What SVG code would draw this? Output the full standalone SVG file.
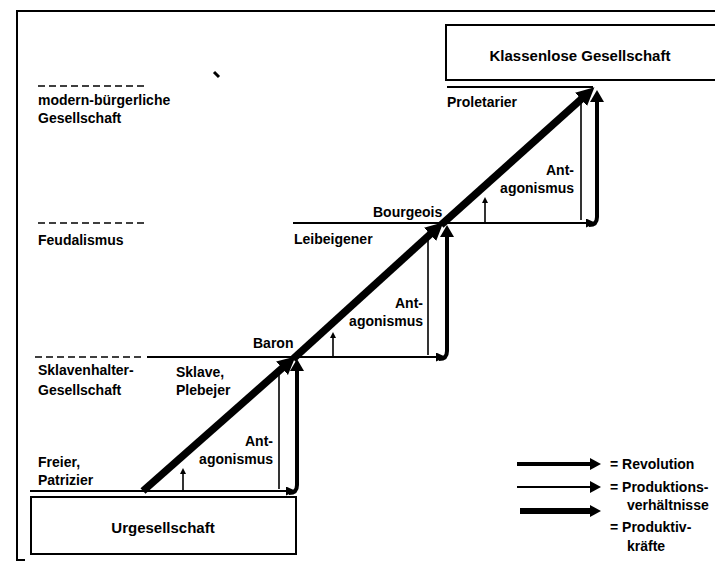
<svg xmlns="http://www.w3.org/2000/svg" width="715" height="564" viewBox="0 0 715 564">
<style>
text{font-family:"Liberation Sans",Arial,sans-serif;font-weight:bold;font-size:14px;fill:#000}
.big{font-size:15px}
.frame{fill:none;stroke:#000;stroke-width:2}
.dash{stroke:#000;stroke-width:1.6;stroke-dasharray:7 4;fill:none}
.pv{stroke:#000;stroke-width:2;fill:none}
.thin{stroke:#000;stroke-width:1.6;fill:none}
.rev{stroke:#000;stroke-width:7.5;fill:none}
.pk{stroke:#000;stroke-width:4;fill:none}
.small{stroke:#000;stroke-width:1.6;fill:none}
</style>
<defs>
<marker id="mRev" markerUnits="userSpaceOnUse" markerWidth="20" markerHeight="20" refX="8" refY="9" orient="auto"><path d="M0,0 L18,9 L0,18 z" fill="#000"/></marker>
<marker id="mPk" markerUnits="userSpaceOnUse" markerWidth="14" markerHeight="14" refX="4" refY="7" orient="auto"><path d="M0,0 L12,7 L0,14 z" fill="#000"/></marker>
<marker id="mPv" markerUnits="userSpaceOnUse" markerWidth="12" markerHeight="10" refX="4" refY="4.5" orient="auto"><path d="M0,0 L10,4.5 L0,9 z" fill="#000"/></marker>
<marker id="mSm" markerUnits="userSpaceOnUse" markerWidth="8" markerHeight="8" refX="2" refY="3" orient="auto"><path d="M0,0 L6,3 L0,6 z" fill="#000"/></marker>
<marker id="mLeg" markerUnits="userSpaceOnUse" markerWidth="14" markerHeight="14" refX="2" refY="6" orient="auto"><path d="M0,0 L11,6 L0,12 z" fill="#000"/></marker>
</defs>

<g id="frame">
<path class="frame" d="M715,11 H17 V560 H25"/>
<path d="M214,72 L219,77" stroke="#000" stroke-width="3"/>
</g>

<g id="levels">
<line class="dash" x1="38" y1="86" x2="146" y2="86"/>
<line class="dash" x1="38" y1="223" x2="147" y2="223"/>
<line class="dash" x1="35" y1="357" x2="145" y2="357"/>
</g>

<g id="node-klassenlos">
<path class="frame" d="M716,25 H446 V80 H716"/>
<text class="big" x="580" y="61" text-anchor="middle">Klassenlose Gesellschaft</text>
</g>

<g id="node-urgesellschaft">
<rect class="frame" x="31" y="497" width="265" height="57"/>
<text class="big" x="163" y="533" text-anchor="middle">Urgesellschaft</text>
</g>

<g id="labels-left">
<text x="38" y="105">modern-bürgerliche</text>
<text x="38" y="123">Gesellschaft</text>
<text x="38" y="245">Feudalismus</text>
<text x="38" y="375">Sklavenhalter-</text>
<text x="38" y="395">Gesellschaft</text>
<text x="38" y="467">Freier,</text>
<text x="38" y="485">Patrizier</text>
</g>

<g id="stage1">
<text x="176" y="377">Sklave,</text>
<text x="176" y="395">Plebejer</text>
<text x="273" y="446" text-anchor="end">Ant-</text>
<text x="273" y="464" text-anchor="end">agonismus</text>
<text x="253" y="348">Baron</text>
</g>

<g id="stage2">
<text x="294" y="244">Leibeigener</text>
<text x="423" y="308" text-anchor="end">Ant-</text>
<text x="423" y="326" text-anchor="end">agonismus</text>
<text x="373" y="217">Bourgeois</text>
</g>

<g id="stage3">
<text x="447" y="107">Proletarier</text>
<text x="574" y="175" text-anchor="end">Ant-</text>
<text x="574" y="193" text-anchor="end">agonismus</text>
</g>

<g id="connectors">
<line class="pv" x1="30" y1="491" x2="290" y2="491" marker-end="url(#mPv)"/>
<line class="pv" x1="147" y1="357" x2="440" y2="357" marker-end="url(#mPv)"/>
<line class="pv" x1="293" y1="223" x2="590" y2="223" marker-end="url(#mPv)"/>
<line class="pv" x1="447" y1="87" x2="593" y2="87"/>
<line class="thin" x1="279" y1="374" x2="279" y2="489"/>
<line class="thin" x1="428" y1="240" x2="428" y2="355"/>
<line class="thin" x1="581" y1="98" x2="581" y2="220"/>
<path class="pk" d="M289,493 Q297,493 297,485 V367" marker-end="url(#mPk)"/>
<path class="pk" d="M439,359 Q447,359 447,351 V233" marker-end="url(#mPk)"/>
<path class="pk" d="M589,225 Q597,225 597,217 V98" marker-end="url(#mPk)"/>
<line class="small" x1="183" y1="491" x2="183" y2="472" marker-end="url(#mSm)"/>
<line class="small" x1="333" y1="357" x2="333" y2="336" marker-end="url(#mSm)"/>
<line class="small" x1="485" y1="222" x2="485" y2="201" marker-end="url(#mSm)"/>
<line class="rev" x1="143" y1="491" x2="288" y2="363" marker-end="url(#mRev)"/>
<line class="rev" x1="293" y1="359" x2="436" y2="229" marker-end="url(#mRev)"/>
<line class="rev" x1="441" y1="225" x2="587" y2="94" marker-end="url(#mRev)"/>
</g>

<g id="legend">
<line stroke="#000" stroke-width="4" x1="517" y1="464" x2="592" y2="464" marker-end="url(#mLeg)"/>
<text x="610" y="469">= Revolution</text>
<line stroke="#000" stroke-width="2" x1="517" y1="487" x2="592" y2="487" marker-end="url(#mLeg)"/>
<text x="610" y="492">= Produktions-</text>
<text x="627" y="510">verhältnisse</text>
<line stroke="#000" stroke-width="6" x1="520" y1="511" x2="592" y2="511" marker-end="url(#mLeg)"/>
<text x="610" y="532">= Produktiv-</text>
<text x="627" y="551">kräfte</text>
</g>
</svg>
